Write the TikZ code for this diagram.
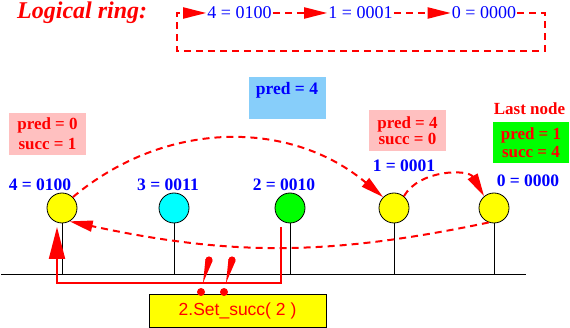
\documentclass[tikz,border=0pt]{standalone}
\usepackage{fontspec}
\setmainfont{Liberation Serif}
\setsansfont{Liberation Sans}
\usetikzlibrary{arrows.meta}

\definecolor{pinkbox}{RGB}{255,192,192}
\definecolor{bluebox}{RGB}{135,206,250}
\definecolor{greenbox}{RGB}{0,255,0}
\definecolor{cyanfill}{RGB}{0,255,255}
\definecolor{yellowfill}{RGB}{255,255,0}

\begin{document}
\begin{tikzpicture}[x=1pt, y=-1pt,
  station/.style={circle, draw, line width=0.8pt, minimum size=30pt, inner sep=0pt},
  addr/.style={text=blue, font=\fontsize{17.5}{20}\selectfont\bfseries, inner sep=1pt},
  ringaddr/.style={text=blue, font=\fontsize{18}{20}\selectfont, inner sep=1pt},
  state/.style={text=red, font=\fontsize{17}{19}\selectfont\bfseries, align=center, inner sep=0pt, minimum width=77pt},
  link/.style={red, line width=2pt, dash pattern=on 7pt off 5pt},
  headarrow/.style={-{Triangle[length=23pt,width=11pt]}}
]
\useasboundingbox (0,0) rectangle (570,328);

\node[text=red, font=\fontsize{24}{27}\selectfont\bfseries\itshape, anchor=west, inner sep=0pt] (title) at (17,13) {Logical ring:};

% logical ring on top
\node[ringaddr] (t4) at (239.5,13) {4 = 0100};
\node[ringaddr] (t1) at (360.5,13) {1 = 0001};
\node[ringaddr] (t0) at (484,13) {0 = 0000};
\draw[link, headarrow] (t4.east) -- (t1.west);
\draw[link, headarrow] (t1.east) -- (t0.west);
\draw[link, headarrow] (t0.east) -| (545,51) -| (177,13) -- (t4.west);

% the bus and its stations
\coordinate (gl) at (1,274);
\coordinate (gr) at (526,274);
\draw[line width=0.8pt] (gl) -- (gr);

\node[station, fill=yellowfill] (n4) at (62,208) {};
\node[station, fill=cyanfill] (n3) at (174,208) {};
\node[station, fill=greenbox] (n2) at (290,208) {};
\node[station, fill=yellowfill] (n1) at (394,208) {};
\node[station, fill=yellowfill] (n0) at (494,208) {};
\foreach \n in {n4,n3,n2,n1,n0}
  \draw[line width=0.8pt] (\n.south) -- (\n.south |- gl);

\node[addr] (a4) at (40,185) {4 = 0100};
\node[addr] (a3) at (168,185) {3 = 0011};
\node[addr] (a2) at (284,185) {2 = 0010};
\node[addr] (a1) at (404,166) {1 = 0001};
\node[addr] (a0) at (528,181) {0 = 0000};

% pred / succ tables
\node[state, fill=pinkbox, minimum height=42pt] (s4) at (47.5,134) {pred = 0\\[1pt]succ = 1};
\node[state, fill=pinkbox, minimum height=41pt] (s1) at (407.5,130.5) {pred = 4\\[-3.5pt]succ = 0};
\node[state, fill=greenbox, minimum width=76pt, minimum height=41pt] (s0) at (531,142.5) {pred = 1\\[-1pt]succ = 4};
\node[text=red, font=\fontsize{17}{19}\selectfont\bfseries, inner sep=0pt] (last) at (529.5,109) {Last node};
\node[fill=bluebox, minimum width=77pt, minimum height=42pt] (newbox) at (287.5,98) {};
\node[addr] (newpred) at (287,90) {pred = 4};

\draw[link, headarrow] (n4.45) to[bend left=40] (n1.135);
\draw[link, headarrow] (n1.50) to[bend left=60] (n0.130);
\draw[link, headarrow] (n0.250) to[bend left=12] (n4.300);

% the call
\coordinate (cmd) at (281,227);
\coordinate (hit) at (57,227);
\draw[red, line width=2pt, -{Triangle[length=32pt,width=16pt]}] (cmd) |- (57,283) -- (hit);

\node[draw, line width=0.8pt, fill=yellowfill, minimum width=177pt, minimum height=33pt, text=red, font=\sffamily\fontsize{17.5}{20}\selectfont] (call) at (237.5,310.5) {2.Set\_succ( 2 )};
\foreach \x in {0,23} {
  \fill[red] (203+\x,283) -- (205.5+\x,259) -- (212.5+\x,261) -- cycle;
  \fill[red] (209+\x,260) circle (3.6pt);
  \fill[red] (201+\x,292) circle (4pt);
}
\end{tikzpicture}
\end{document}
